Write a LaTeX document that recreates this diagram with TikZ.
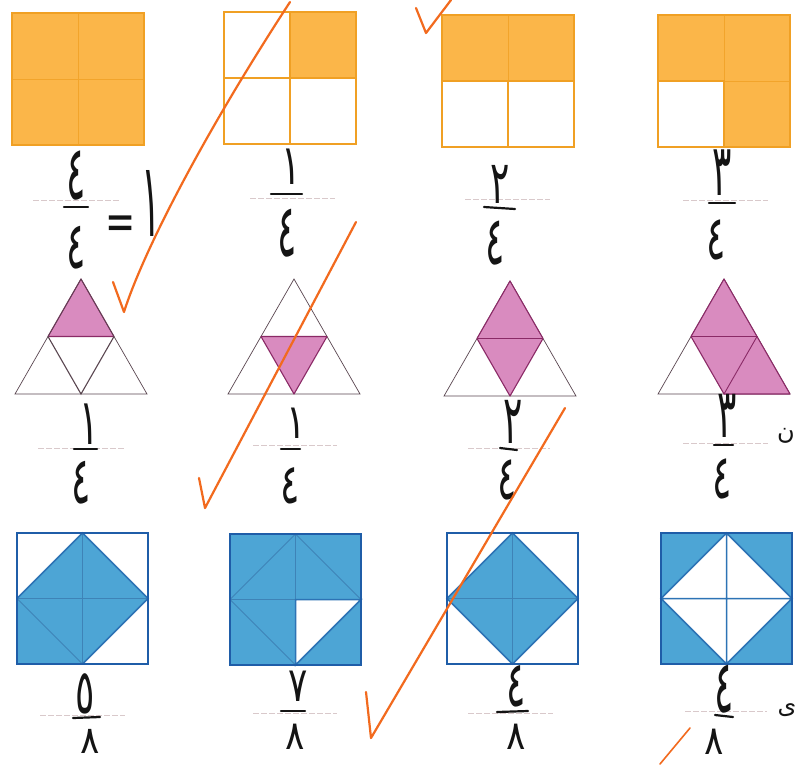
\documentclass[tikz,border=0pt]{standalone}
\usepackage{fontspec}
\newfontfamily\arabicfont[Script=Arabic]{DejaVu Sans}
\definecolor{ofill}{HTML}{FBB649}
\definecolor{oline}{HTML}{F0A024}
\definecolor{pfill}{HTML}{D98BBF}
\definecolor{pline}{HTML}{8A2A66}
\definecolor{tline}{HTML}{5A4650}
\definecolor{bfill}{HTML}{4DA5D5}
\definecolor{bline}{HTML}{1F5DA8}
\definecolor{binner}{HTML}{3A78AE}
\definecolor{pen}{HTML}{F26A1E}
\definecolor{ink}{HTML}{141414}
\definecolor{guide}{HTML}{D9C9CB}
\tikzset{
  osq/.style={draw=oline, line width=1.6pt},
  ogrid/.style={draw=oline, line width=1.3pt},
  ogridfaint/.style={draw=oline!80!ofill, line width=0.6pt},
  tri/.style={draw=tline, line width=0.7pt},
  trishade/.style={fill=pfill, draw=pline, line width=1.1pt, line join=round},
  bsq/.style={draw=bline, line width=1.4pt},
  binn/.style={draw=binner, line width=0.8pt, opacity=0.75},
  bstrong/.style={draw=bline!70!bfill, line width=1.5pt},
  hw/.style={font=\arabicfont\fontsize{40}{40}\selectfont, inner sep=0pt, text=ink},
  fracguide/.style={draw=guide, line width=0.7pt, dash pattern=on 6pt off 2pt},
  fracbar/.style={draw=ink, line width=2.2pt, line cap=round},
  check/.style={draw=pen, line width=2.2pt, line cap=round, line join=round},
}
% \dg[vertical stretch]{digit}
\newcommand\dg[2][1.8]{\scalebox{0.9}[#1]{#2}}
\begin{document}
\begin{tikzpicture}[x=1pt,y=-1pt]
\useasboundingbox (0,0) rectangle (795,764);
\fill[white] (0,0) rectangle (795,764);

% ---------- Row 1: orange squares ----------
\fill[ofill] (12,13) rectangle ++(132,132);
\draw[ogridfaint] (78,13) -- (78,145) (12,79) -- (144,79);
\draw[osq] (12,13) rectangle ++(132,132);
\fill[ofill] (290,12) rectangle (356,78);
\draw[ogrid] (290,12) -- (290,144) (224,78) -- (356,78);
\draw[osq] (224,12) rectangle ++(132,132);
\fill[ofill] (442,15) rectangle (574,81);
\draw[ogridfaint] (508,15) -- (508,81);
\draw[ogrid] (508,81) -- (508,147) (442,81) -- (574,81);
\draw[osq] (442,15) rectangle ++(132,132);
\fill[ofill] (658,15) -- (790,15) -- (790,147) -- (724,147) -- (724,81) -- (658,81) -- cycle;
\draw[ogridfaint] (724,15) -- (724,81) -- (790,81);
\draw[ogrid] (658,81) -- (724,81) -- (724,147);
\draw[osq] (658,15) rectangle ++(132,132);

% ---------- Row 2: triangles ----------
\begin{scope}[shift={(81,279)}]
  \fill[trishade] (0,0) -- (-33,57.5) -- (33,57.5) -- cycle;
  \draw[tri] (0,0) -- (-66,115) -- (66,115) -- cycle;
  \draw[tri, line width=1.1pt] (-33,57.5) -- (0,115) -- (33,57.5);
\end{scope}
\begin{scope}[shift={(294,279)}]
  \draw[tri] (0,0) -- (-66,115) -- (66,115) -- cycle;
  \fill[trishade] (-33,57.5) -- (33,57.5) -- (0,115) -- cycle;
\end{scope}
\begin{scope}[shift={(510,281)}]
  \draw[tri] (0,0) -- (-66,115) -- (66,115) -- cycle;
  \fill[trishade] (0,0) -- (-33,57.5) -- (0,115) -- (33,57.5) -- cycle;
  \draw[pline, line width=0.9pt] (-33,57.5) -- (33,57.5);
\end{scope}
\begin{scope}[shift={(724,279)}]
  \draw[tri] (0,0) -- (-66,115) -- (66,115) -- cycle;
  \fill[trishade] (0,0) -- (-33,57.5) -- (0,115) -- (66,115) -- cycle;
  \draw[pline, line width=0.9pt] (-33,57.5) -- (33,57.5) -- (0,115);
\end{scope}

% ---------- Row 3: blue squares ----------
\begin{scope}[shift={(17,533)}]
  \fill[bfill] (65.5,0) -- (131,65.5) -- (65.5,131) -- (0,131) -- (0,65.5) -- cycle;
  \draw[binn] (65.5,0) -- (65.5,131) (0,65.5) -- (131,65.5) (0,65.5) -- (65.5,131);
  \draw[bstrong] (0,65.5) -- (65.5,0) -- (131,65.5) -- (65.5,131);
  \draw[bsq] (0,0) rectangle (131,131);
\end{scope}
\begin{scope}[shift={(230,534)}]
  \fill[bfill] (0,0) rectangle (131,131);
  \fill[white] (65.5,65.5) -- (131,65.5) -- (65.5,131) -- cycle;
  \draw[binn] (65.5,0) -- (131,65.5) -- (65.5,131) -- (0,65.5) -- cycle
              (65.5,0) -- (65.5,131) (0,65.5) -- (131,65.5);
  \draw[bstrong] (65.5,65.5) -- (131,65.5) -- (65.5,131) -- cycle;
  \draw[bsq] (0,0) rectangle (131,131);
\end{scope}
\begin{scope}[shift={(447,533)}]
  \fill[bfill] (65.5,0) -- (131,65.5) -- (65.5,131) -- (0,65.5) -- cycle;
  \draw[binn] (65.5,0) -- (65.5,131) (0,65.5) -- (131,65.5);
  \draw[bstrong] (65.5,0) -- (131,65.5) -- (65.5,131) -- (0,65.5) -- cycle;
  \draw[bsq] (0,0) rectangle (131,131);
\end{scope}
\begin{scope}[shift={(661,533)}]
  \fill[bfill] (0,0) rectangle (131,131);
  \fill[white] (65.5,0) -- (131,65.5) -- (65.5,131) -- (0,65.5) -- cycle;
  \draw[bstrong] (65.5,0) -- (131,65.5) -- (65.5,131) -- (0,65.5) -- cycle
                 (65.5,0) -- (65.5,131) (0,65.5) -- (131,65.5);
  \draw[bsq] (0,0) rectangle (131,131);
\end{scope}

% ---------- printed fraction guides ----------
\draw[fracguide] (33,200) -- (120,200);
\draw[fracguide] (250,198) -- (335,198);
\draw[fracguide] (465,199) -- (550,199);
\draw[fracguide] (683,200) -- (768,200);
\draw[fracguide] (38,448) -- (125,448);
\draw[fracguide] (253,445) -- (337,445);
\draw[fracguide] (468,448) -- (550,448);
\draw[fracguide] (683,443) -- (768,443);
\draw[fracguide] (40,715) -- (125,715);
\draw[fracguide] (253,713) -- (337,713);
\draw[fracguide] (468,713) -- (553,713);
\draw[fracguide] (685,711) -- (767,711);

% ---------- handwritten fractions ----------
% row 1
\node[hw] (n11) at (76,176) {\dg[1.9]{٤}};
\node[hw] (d11) at (76,248) {\dg[1.65]{٤}};
\node[hw] (eq11) at (121,228) {\dg[1.3]{=}};
\node[hw] (one11) at (151,203) {\dg[2.6]{١}};
\draw[fracbar] (64,207) -- (88,207);
\node[hw] (n12) at (291,167) {\dg[1.4]{١}};
\node[hw] (d12) at (287,233) {\dg[1.85]{٤}};
\draw[fracbar] (271,194) -- (302,194);
\node[hw] (n13) at (500,184) {\dg[1.5]{٢}};
\node[hw] (d13) at (495,243) {\dg[1.7]{٤}};
\draw[fracbar] (484,207) -- (515,209);
\node[hw] (n14) at (722,173) {\dg[1.8]{٣}};
\node[hw] (d14) at (716,240) {\dg[1.55]{٤}};
\draw[fracbar] (709,203) -- (735,203);
% row 2
\node[hw] (n21) at (89,424) {\dg[1.6]{١}};
\node[hw] (d21) at (81,483) {\dg[1.65]{٤}};
\draw[fracbar] (74,449) -- (97,449);
\node[hw] (n22) at (296,423) {\dg[1.2]{١}};
\node[hw] (d22) at (290,486) {\dg[1.4]{٤}};
\draw[fracbar] (281,449) -- (300,449);
\node[hw] (n23) at (513,422) {\dg[1.7]{٢}};
\node[hw] (d23) at (507,480) {\dg[1.55]{٤}};
\draw[fracbar] (500,448) -- (517,450);
\node[hw] (n24) at (727,416) {\dg[1.7]{٣}};
\node[hw] (d24) at (722,479) {\dg[1.55]{٤}};
\draw[fracbar] (714,445) -- (733,445);
% row 3
\node[hw] (n31) at (85,694) {\dg[1.55]{٥}};
\node[hw] (d31) at (90,741) {\dg[0.95]{٨}};
\draw[fracbar] (73,718) -- (100,717);
\node[hw] (n32) at (298,686) {\dg[1.2]{٧}};
\node[hw] (d32) at (295,737) {\dg[1.0]{٨}};
\draw[fracbar] (281,711) -- (305,711);
\node[hw] (n33) at (516,686) {\dg[1.6]{٤}};
\node[hw] (d33) at (516,737) {\dg[1.0]{٨}};
\draw[fracbar] (497,712) -- (528,711);
\node[hw] (n34) at (724,689) {\dg[1.85]{٤}};
\node[hw] (d34) at (714,742) {\dg[1.0]{٨}};
\draw[fracbar] (715,715) -- (733,717);

\node[hw, font=\arabicfont\fontsize{24}{24}\selectfont] (m1) at (786,436) {ن};
\node[hw, font=\arabicfont\fontsize{24}{24}\selectfont] (m2) at (787,710) {ى};

% ---------- orange check marks ----------
\coordinate (c1a) at (113,282);
\coordinate (c1t) at (124,312);
\coordinate (c1b) at (290,2);
\draw[check] (c1a) -- (c1t) .. controls (142,255) and (200,140) .. (c1b);
\coordinate (c2a) at (416,8);
\coordinate (c2t) at (426,33);
\coordinate (c2b) at (451,0);
\draw[check] (c2a) -- (c2t) -- (c2b);
\coordinate (c3a) at (199,478);
\coordinate (c3t) at (205,508);
\coordinate (c3b) at (356,222);
\draw[check] (c3a) -- (c3t) -- (c3b);
\coordinate (c4a) at (366,692);
\coordinate (c4t) at (371,738);
\coordinate (c4b) at (565,408);
\draw[check] (c4a) -- (c4t) -- (c4b);
\coordinate (c5a) at (660,764);
\coordinate (c5b) at (690,728);
\draw[check, line width=1.6pt] (c5a) -- (c5b);
\end{tikzpicture}
\end{document}
